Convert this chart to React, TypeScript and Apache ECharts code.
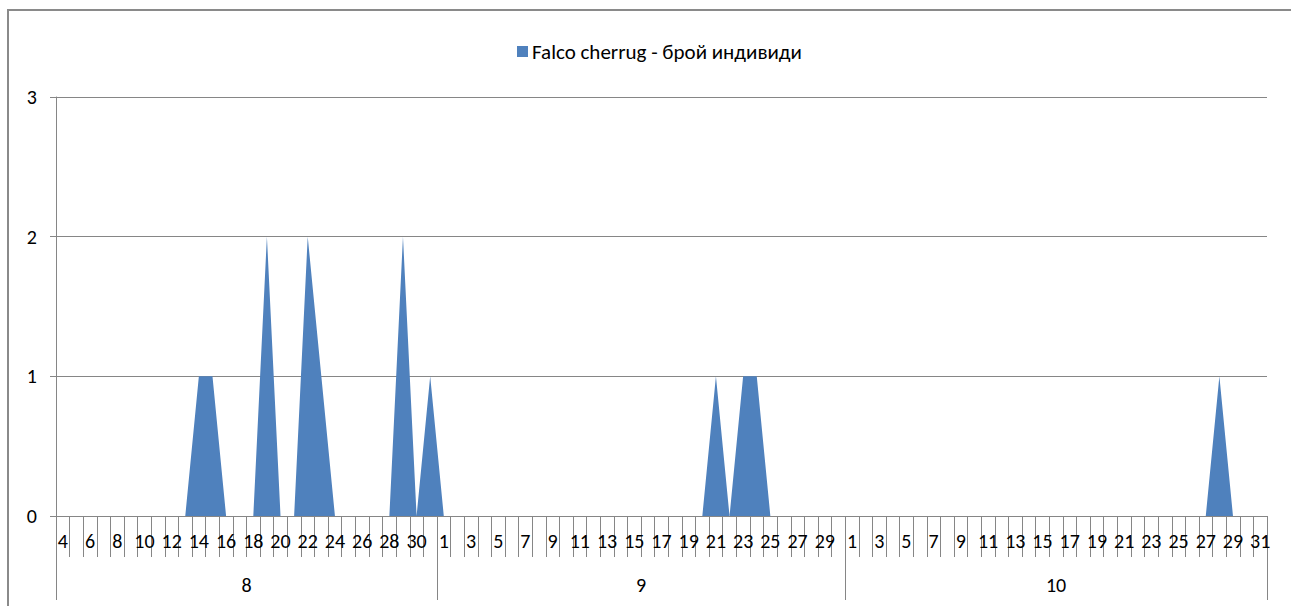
import React, { useEffect, useRef } from "react";
import * as echarts from "echarts";

// Months shown on the outer category level and their day ranges
const monthLabels = ["8", "9", "10"];
const monthFirstDay = [4, 1, 1];
const monthLastDay = [31, 30, 31];

// Number of individuals per day
const augValues = [0, 0, 0, 0, 0, 0, 0, 0, 0, 0, 1, 1, 0, 0, 0, 2, 0, 0, 2, 1, 0, 0, 0, 0, 0, 2, 0, 1];
const sepValues = [0, 0, 0, 0, 0, 0, 0, 0, 0, 0, 0, 0, 0, 0, 0, 0, 0, 0, 0, 0, 1, 0, 1, 1, 0, 0, 0, 0, 0, 0];
const octValues = [0, 0, 0, 0, 0, 0, 0, 0, 0, 0, 0, 0, 0, 0, 0, 0, 0, 0, 0, 0, 0, 0, 0, 0, 0, 0, 0, 1, 0, 0, 0];

const yTicks = [0, 1, 2, 3];
const seriesName = "Falco cherrug - брой индивиди";

const FONT = "Carlito, Calibri, 'Open Sans', sans-serif";
const GRAY = "#868686";

export default function App() {
  const ref = useRef<HTMLDivElement>(null);

  useEffect(() => {
    if (!ref.current) return;
    const chart = echarts.init(ref.current, undefined, { renderer: "svg" });

    const days: string[] = [];
    const monthLens: number[] = [];
    monthLabels.forEach((_, m) => {
      let n = 0;
      for (let d = monthFirstDay[m]; d <= monthLastDay[m]; d++) {
        days.push(String(d));
        n++;
      }
      monthLens.push(n);
    });
    const values = [...augValues, ...sepValues, ...octValues];

    // outer level axis in half-day units (boundaryGap false)
    const starts: number[] = [0];
    monthLens.forEach((n, i) => starts.push(starts[i] + n));
    const total = starts[starts.length - 1];
    const halfData: string[] = new Array(total * 2 + 1).fill("");
    const boundaries = starts.map((s) => s * 2);
    monthLabels.forEach((lab, i) => {
      halfData[starts[i] + starts[i + 1]] = lab;
    });

    chart.setOption({
      animation: false,
      graphic: [
        {
          type: "rect",
          shape: { x: 8, y: 10, width: 1320, height: 700 },
          style: { fill: "none", stroke: "#8a8a8a", lineWidth: 2 },
          silent: true,
        },
      ],
      legend: {
        left: 512,
        top: 36,
        icon: "rect",
        itemWidth: 11,
        itemHeight: 11,
        itemGap: 4,
        textStyle: { fontFamily: FONT, fontSize: 21, color: "#000", padding: [0, 0, 0, -1] },
        data: [seriesName],
      },
      grid: { left: 56, right: 24, top: 97, bottom: 90, containLabel: false },
      xAxis: [
        {
          type: "category",
          data: days,
          boundaryGap: true,
          axisLine: { show: true, lineStyle: { color: GRAY, width: 1 } },
          axisTick: { show: true, interval: 0, length: 41, lineStyle: { color: GRAY } },
          axisLabel: {
            interval: 1,
            margin: 15,
            color: "#000",
            fontFamily: FONT,
            fontSize: 20,
          },
          splitLine: { show: false },
        },
        {
          type: "category",
          data: halfData,
          boundaryGap: false,
          position: "bottom",
          axisLine: { show: false },
          axisTick: {
            show: true,
            length: 84,
            interval: (index: number) => boundaries.includes(index),
            lineStyle: { color: GRAY },
          },
          axisLabel: {
            interval: 0,
            margin: 59,
            color: "#000",
            fontFamily: FONT,
            fontSize: 20,
          },
          splitLine: { show: false },
        },
      ],
      yAxis: {
        type: "value",
        min: yTicks[0],
        max: yTicks[yTicks.length - 1],
        interval: 1,
        axisLine: { show: true, lineStyle: { color: GRAY } },
        axisTick: { show: true, length: 6, lineStyle: { color: GRAY } },
        axisLabel: { margin: 19, color: "#000", fontFamily: FONT, fontSize: 20 },
        splitLine: { show: true, lineStyle: { color: GRAY, width: 1 } },
      },
      series: [
        {
          name: seriesName,
          type: "line",
          xAxisIndex: 0,
          data: values,
          symbol: "none",
          smooth: false,
          lineStyle: { width: 0, color: "#4F81BD" },
          itemStyle: { color: "#4F81BD" },
          areaStyle: { color: "#4F81BD", opacity: 1 },
        },
      ],
    });

    return () => chart.dispose();
  }, []);

  return (
    <div
      ref={ref}
      style={{ position: "fixed", left: 0, top: 0, width: 1291, height: 606, background: "#fff" }}
    />
  );
}
